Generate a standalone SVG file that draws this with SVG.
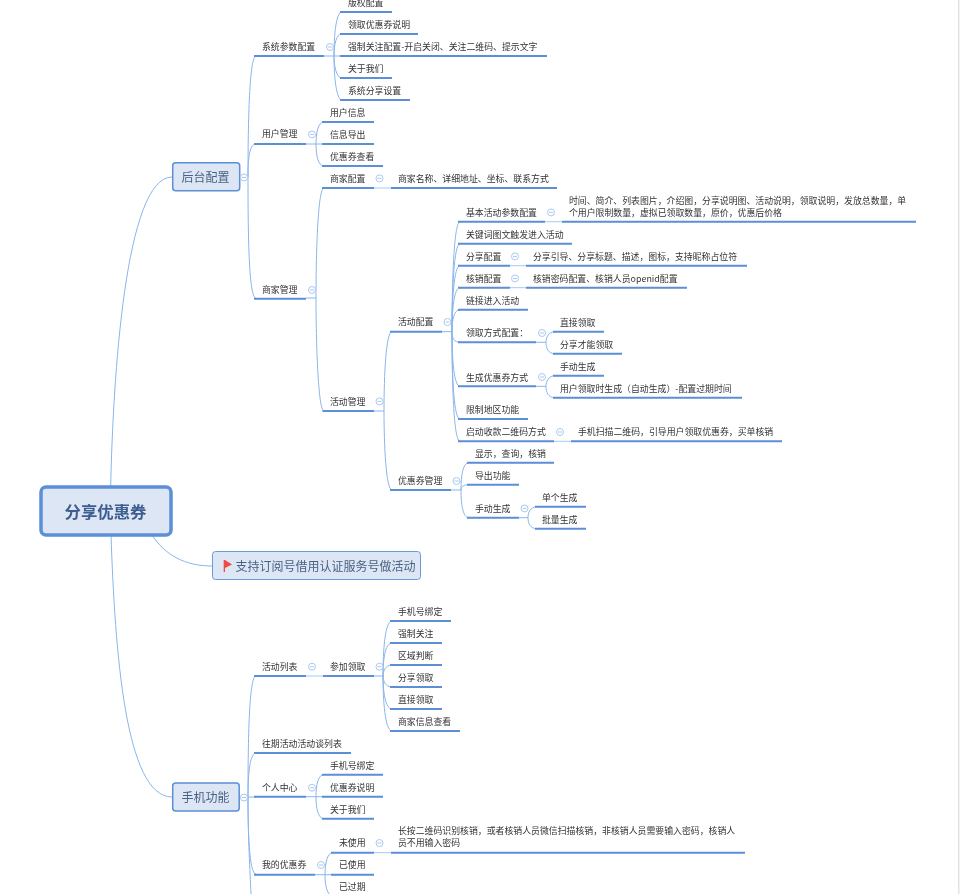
<svg xmlns="http://www.w3.org/2000/svg" width="974" height="894" viewBox="0 0 974 894">
<style>
text{font-family:"Noto Sans CJK SC","Liberation Sans",sans-serif;font-size:8.9px;fill:#333;dominant-baseline:central}
.u{stroke:#5b8fd6;stroke-width:2;fill:none}
.t{stroke:#a9c8f0;stroke-width:1;fill:none}
.b{stroke:#8ab4ea;stroke-width:1;fill:none}
.c{stroke:#a9c8f0;stroke-width:1;fill:#fff}
.m{stroke:#a9c8f0;stroke-width:1}
.box{fill:#dce6f4;stroke:#5b8fd6;stroke-width:1.5}
.bt{font-size:12px;fill:#4a6283}
</style>
<defs><g id="col"><circle class="c" r="3.5"/><path class="m" d="M-2 0H2"/></g>
<filter id="soft" x="0" y="0" width="100%" height="100%" filterUnits="userSpaceOnUse"><feGaussianBlur stdDeviation="0.35"/></filter></defs>
<rect width="974" height="894" fill="#fff"/>
<path d="M958.7 0V894" stroke="#e2e2e2" stroke-width="1.5"/>
<g filter="url(#soft)">
<g id="connectors">
<path class="b" d="M110.7 486C113 380 125 177 172 177"/>
<path class="b" d="M111 535C115 650 125 797 172 797"/>
<path class="b" d="M152 535C165 555 185 566 212 566"/>
<path class="b" d="M240 177H248M248 177C248 110 250 56 256 56M248 177C248 160 249 144 256 144M248 177C248 240 249 298 256 298"/>
<path class="b" d="M240 797H248M248 797C248 740 249 676 256 676M248 797C248 780 249 753 256 753M248 797H256M248 797C248 830 249 874 256 874M248 797C248 840 250 870 251 894"/>
<path class="b" d="M324 56H334M334 56C334 35 336 12 342 12M334 56C334 45 336 34 342 34M334 56H342M334 56C334 65 336 78 342 78M334 56C334 75 336 100 342 100"/>
<path class="b" d="M306 144H316M316 144C316 133 318 122 324 122M316 144H324M316 144C316 155 318 166 324 166"/>
<path class="b" d="M306 298H316M316 298C316 250 318 188 324 188M316 298C316 340 318 411 324 411"/>
<path class="t" d="M374 188H391M510 265.7H526M510 287.7H526M545 221.7H562M554 441.3H571M306 676H323M374 852.7H391"/>
<path class="b" d="M374 411H384M384 411C384 375 386 331.7 392 331.7M384 411C384 445 386 490 392 490"/>
<path class="b" d="M442 331.7H452M452 331.7C452 280 454 221.7 460 221.7M452 331.7C452 290 454 243.7 460 243.7M452 331.7C452 300 454 265.7 460 265.7M452 331.7C452 310 454 287.7 460 287.7M452 331.7C452 320 454 309.7 460 309.7M452 331.7C452 338 454 342.3 460 342.3M452 331.7C452 360 454 386.3 460 386.3M452 331.7C452 380 454 419 460 419M452 331.7C452 390 454 441.3 460 441.3"/>
<path class="b" d="M451 490H461M461 490C461 475 463 462.7 469 462.7M461 490C461 487 463 484.7 469 484.7M461 490C461 505 463 517.7 469 517.7"/>
<path class="b" d="M536 342.3H546M546 342.3C546 338 548 331.7 555 331.7M546 342.3C546 348 548 353.7 555 353.7"/>
<path class="b" d="M536 386.3H546M546 386.3C546 382 548 375.7 555 375.7M546 386.3C546 392 548 397.7 555 397.7"/>
<path class="b" d="M519 517.7H528M528 517.7C528 513 530 506.7 537 506.7M528 517.7C528 523 530 528.7 537 528.7"/>
<path class="b" d="M374 676H383M383 676C383 650 385 621 392 621M383 676C383 660 385 643 392 643M383 676C383 672 385 665 392 665M383 676C383 680 385 687 392 687M383 676C383 690 385 709 392 709M383 676C383 700 385 731 392 731"/>
<path class="b" d="M306 796.7H316M316 796.7C316 785 318 774.7 324 774.7M316 796.7H324M316 796.7C316 808 318 818.7 324 818.7"/>
<path class="b" d="M315 874.7H325M325 874.7C325 864 327 852.7 333 852.7M325 874.7H333M325 874.7C325 885 327 896 333 896"/>
</g>
<g id="root"><rect x="41" y="487" width="130" height="48" rx="5" fill="#dce6f4" stroke="#5b8fd6" stroke-width="3.5"/><text x="105.5" y="510.5" text-anchor="middle" style="font-size:16.4px;font-weight:700;fill:#3d5f8f">分享优惠券</text></g>
<g id="n-houtai"><rect class="box" x="172.7" y="162.7" width="67" height="28" rx="3"/><text class="bt" x="205.5" y="176.5" text-anchor="middle">后台配置</text><use href="#col" x="244" y="177.5"/></g>
<g id="n-phone"><rect class="box" x="172.7" y="783" width="66.5" height="28" rx="3"/><text class="bt" x="205.5" y="796.5" text-anchor="middle">手机功能</text><use href="#col" x="244" y="797.5"/></g>
<g id="n-flag"><rect x="212.5" y="551.5" width="208" height="28" rx="3" fill="#dce6f4" stroke="#6d9ad8"/><path d="M223.7 560H225V572H223.7Z" fill="#ee4b46"/><path d="M225 560L232 564.5L225 568Z" fill="#ee4b46"/><text class="bt" x="235.5" y="565.5">支持订阅号借用认证服务号做活动</text></g>
<g id="underlines">
<path class="u" d="M254 56H324M340 12H392M340 34H418M340 56H547M340 78H392M340 100H410M254 144H306M322 122H374M322 144H374M322 166H383M322 188H374M391 188H557M254 298.7H306M458 221.7H545M562 221.7H916M458 243.7H572M458 265.7H510M526 265.7H747M458 287.7H510M526 287.7H687M458 309.7H528M458 342.3H536M553 331.7H604M553 353.7H622M458 386.3H536M553 375.7H604M553 397.7H742M458 419H528M458 441.3H554M571 441.3H782M390 331.7H442M322.5 411H374M390 490H451M467 462.7H554M467 484.7H519M467 517.7H519M535 506.7H586M535 528.7H586M254 676H306M323 676H374M390 621H451M390 643H442M390 665H442M390 687H442M390 709H442M390 731H460M254 753H351M254 796.7H306M322 774.7H383M322 796.7H383M322 818.7H374M254 874.7H315M331 852.7H374M391 852.7H745M331 874.7H374"/>
</g>
<g id="nodes" transform="translate(0,-0.6)">
<g id="n1"><text x="262" y="47">系统参数配置</text><use href="#col" x="330" y="47.6"/></g>
<g id="n2"><text x="348" y="3">版权配置</text></g>
<g id="n3"><text x="348" y="25">领取优惠券说明</text></g>
<g id="n4"><text x="348" y="47">强制关注配置-开启关闭、关注二维码、提示文字</text></g>
<g id="n5"><text x="348" y="69">关于我们</text></g>
<g id="n6"><text x="348" y="91">系统分享设置</text></g>
<g id="n7"><text x="262" y="134.5">用户管理</text><use href="#col" x="312" y="135"/></g>
<g id="n8"><text x="330" y="113">用户信息</text></g>
<g id="n9"><text x="330" y="135">信息导出</text></g>
<g id="n10"><text x="330" y="157">优惠券查看</text></g>
<g id="n11"><text x="330" y="179">商家配置</text><use href="#col" x="379.5" y="179"/></g>
<g id="n12"><text x="398" y="179">商家名称、详细地址、坐标、联系方式</text></g>
<g id="n13"><text x="262" y="290">商家管理</text><use href="#col" x="312" y="290.6"/></g>
<g id="n14"><text x="330" y="402">活动管理</text><use href="#col" x="379.5" y="402"/></g>
<g id="n15"><text x="398" y="322.5">活动配置</text><use href="#col" x="447.5" y="322.6"/></g>
<g id="n16"><text x="466" y="212.7">基本活动参数配置</text><use href="#col" x="551" y="213"/></g>
<g id="n17"><text x="569" y="200.7">时间、简介、列表图片，介绍图，分享说明图、活动说明，领取说明，发放总数量，单</text><text x="569" y="212.7">个用户限制数量，虚拟已领取数量，原价，优惠后价格</text></g>
<g id="n18"><text x="466" y="235">关键词图文触发进入活动</text></g>
<g id="n19"><text x="466" y="257">分享配置</text><use href="#col" x="515" y="257"/></g>
<g id="n20"><text x="533" y="257">分享引导、分享标题、描述，图标，支持昵称占位符</text></g>
<g id="n21"><text x="466" y="279">核销配置</text><use href="#col" x="515" y="279"/></g>
<g id="n22"><text x="533" y="279">核销密码配置、核销人员openid配置</text></g>
<g id="n23"><text x="466" y="301">链接进入活动</text></g>
<g id="n24"><text x="466" y="333.5">领取方式配置：</text><use href="#col" x="542" y="333.6"/></g>
<g id="n25"><text x="560" y="323">直接领取</text></g>
<g id="n26"><text x="560" y="345">分享才能领取</text></g>
<g id="n27"><text x="466" y="378">生成优惠券方式</text><use href="#col" x="542" y="377.6"/></g>
<g id="n28"><text x="560" y="367">手动生成</text></g>
<g id="n29"><text x="560" y="389">用户领取时生成（自动生成）-配置过期时间</text></g>
<g id="n30"><text x="466" y="410">限制地区功能</text></g>
<g id="n31"><text x="466" y="432">启动收款二维码方式</text><use href="#col" x="560" y="432.6"/></g>
<g id="n32"><text x="578" y="432">手机扫描二维码，引导用户领取优惠券，买单核销</text></g>
<g id="n33"><text x="398" y="481">优惠券管理</text><use href="#col" x="456.5" y="481.6"/></g>
<g id="n34"><text x="475" y="454">显示，查询，核销</text></g>
<g id="n35"><text x="475" y="476">导出功能</text></g>
<g id="n36"><text x="475" y="509">手动生成</text><use href="#col" x="524.5" y="509"/></g>
<g id="n37"><text x="542" y="498">单个生成</text></g>
<g id="n38"><text x="542" y="520">批量生成</text></g>
<g id="n39"><text x="262" y="667">活动列表</text><use href="#col" x="312" y="667.3"/></g>
<g id="n40"><text x="330" y="667">参加领取</text><use href="#col" x="379.5" y="667.3"/></g>
<g id="n41"><text x="398" y="612">手机号绑定</text></g>
<g id="n42"><text x="398" y="634">强制关注</text></g>
<g id="n43"><text x="398" y="656">区域判断</text></g>
<g id="n44"><text x="398" y="678">分享领取</text></g>
<g id="n45"><text x="398" y="700">直接领取</text></g>
<g id="n46"><text x="398" y="722">商家信息查看</text></g>
<g id="n47"><text x="262" y="744">往期活动活动谈列表</text></g>
<g id="n48"><text x="262" y="788">个人中心</text><use href="#col" x="312" y="788.3"/></g>
<g id="n49"><text x="330" y="766">手机号绑定</text></g>
<g id="n50"><text x="330" y="788">优惠券说明</text></g>
<g id="n51"><text x="330" y="810">关于我们</text></g>
<g id="n52"><text x="262" y="865">我的优惠券</text><use href="#col" x="321" y="865.6"/></g>
<g id="n53"><text x="339" y="843.5">未使用</text><use href="#col" x="379.5" y="843.6"/></g>
<g id="n54"><text x="398" y="831.5">长按二维码识别核销，或者核销人员微信扫描核销，非核销人员需要输入密码，核销人</text><text x="398" y="843.5">员不用输入密码</text></g>
<g id="n55"><text x="339" y="865.5">已使用</text></g>
<g id="n56"><text x="339" y="887.5">已过期</text></g>
</g>
</g>
</svg>
